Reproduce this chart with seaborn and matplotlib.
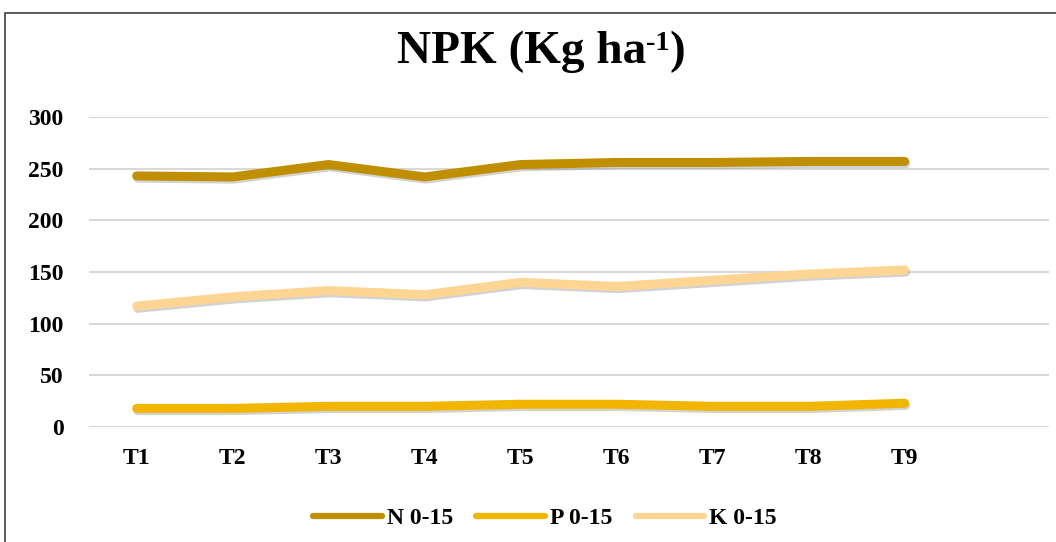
import pandas as pd
import numpy as np
import seaborn as sns
import matplotlib.pyplot as plt
import matplotlib.patheffects as pe
from matplotlib.lines import Line2D
from matplotlib.patches import Rectangle

treatments = ['T1', 'T2', 'T3', 'T4', 'T5', 'T6', 'T7', 'T8', 'T9']
n_vals = [243, 242, 254, 242, 254, 256, 256, 257, 257]
p_vals = [18, 18, 20, 20, 22, 22, 20, 20, 23]
k_vals = [117, 126, 132, 128, 140, 136, 142, 148, 152]
series = ['N 0-15', 'P 0-15', 'K 0-15']
colors = ['#BF8F00', '#F2B600', '#FFD593']

df = pd.DataFrame({
    'x': list(range(len(treatments))) * 3,
    'value': n_vals + p_vals + k_vals,
    'series': np.repeat(series, len(treatments)),
})

sns.set_style('white')
plt.rcParams['font.family'] = ['Liberation Serif', 'DejaVu Serif']
plt.rcParams['font.weight'] = 'bold'
plt.rcParams['text.color'] = 'black'
plt.rcParams['xtick.color'] = 'black'
plt.rcParams['ytick.color'] = 'black'

fig = plt.figure(figsize=(10.56, 5.42), dpi=100)
ax = fig.add_axes([0.084, 0.2122, 0.909, 0.5719])

sns.lineplot(data=df, x='x', y='value', hue='series', palette=colors,
             hue_order=series, linewidth=6.5, legend=False, ax=ax)
for line in ax.lines:
    line.set_solid_capstyle('round')
    line.set_solid_joinstyle('round')
    line.set_path_effects([pe.SimpleLineShadow(offset=(0.8, -1.6), shadow_color='#808080', alpha=0.35),
                           pe.Normal()])

ax.set_xlim(-0.5, 9.5)
ax.set_ylim(0, 300)
ax.set_yticks(range(0, 301, 50))
ax.set_xticks(range(len(treatments)))
ax.set_xticklabels(treatments)
ax.grid(axis='y', color='#D9D9D9', linewidth=1.5)
ax.set_axisbelow(True)
for s in ax.spines.values():
    s.set_visible(False)
ax.tick_params(axis='y', length=0, pad=18, labelsize=17)
ax.tick_params(axis='x', length=0, pad=15, labelsize=17)
ax.set_xlabel('')
ax.set_ylabel('')

# title in pieces so the superscript keeps the serif hyphen
renderer = fig.canvas.get_renderer()
tsize = 34
parts = [('NPK (Kg ha', tsize, 0), ('-1', tsize * 0.6, 13), (')', tsize, 0)]
texts = []
for s, size, rise in parts:
    texts.append(fig.text(0, 0, s, fontsize=size, fontweight='bold', va='baseline', ha='left'))
widths = [t.get_window_extent(renderer).width for t in texts]
total = sum(widths)
x0 = 541 - total / 2
base = 542 - 63
for t, w, (s, size, rise) in zip(texts, widths, parts):
    t.set_position((x0 / 1056, (base + rise) / 542))
    x0 += w

handles = [Line2D([0], [0], color=c, linewidth=4.5, solid_capstyle='round') for c in colors]
fig.legend(handles, series, loc='center', bbox_to_anchor=(0.516, 0.044), ncol=3,
           frameon=False, fontsize=17, handlelength=2.9, handletextpad=0.2,
           columnspacing=1.0)

fig.patches.append(Rectangle((5 / 1056, -0.1), 1.2, 1.1 - 13 / 542, transform=fig.transFigure,
                             fill=False, edgecolor='#404040', linewidth=1.2))

fig.savefig('out.png', dpi=100)
